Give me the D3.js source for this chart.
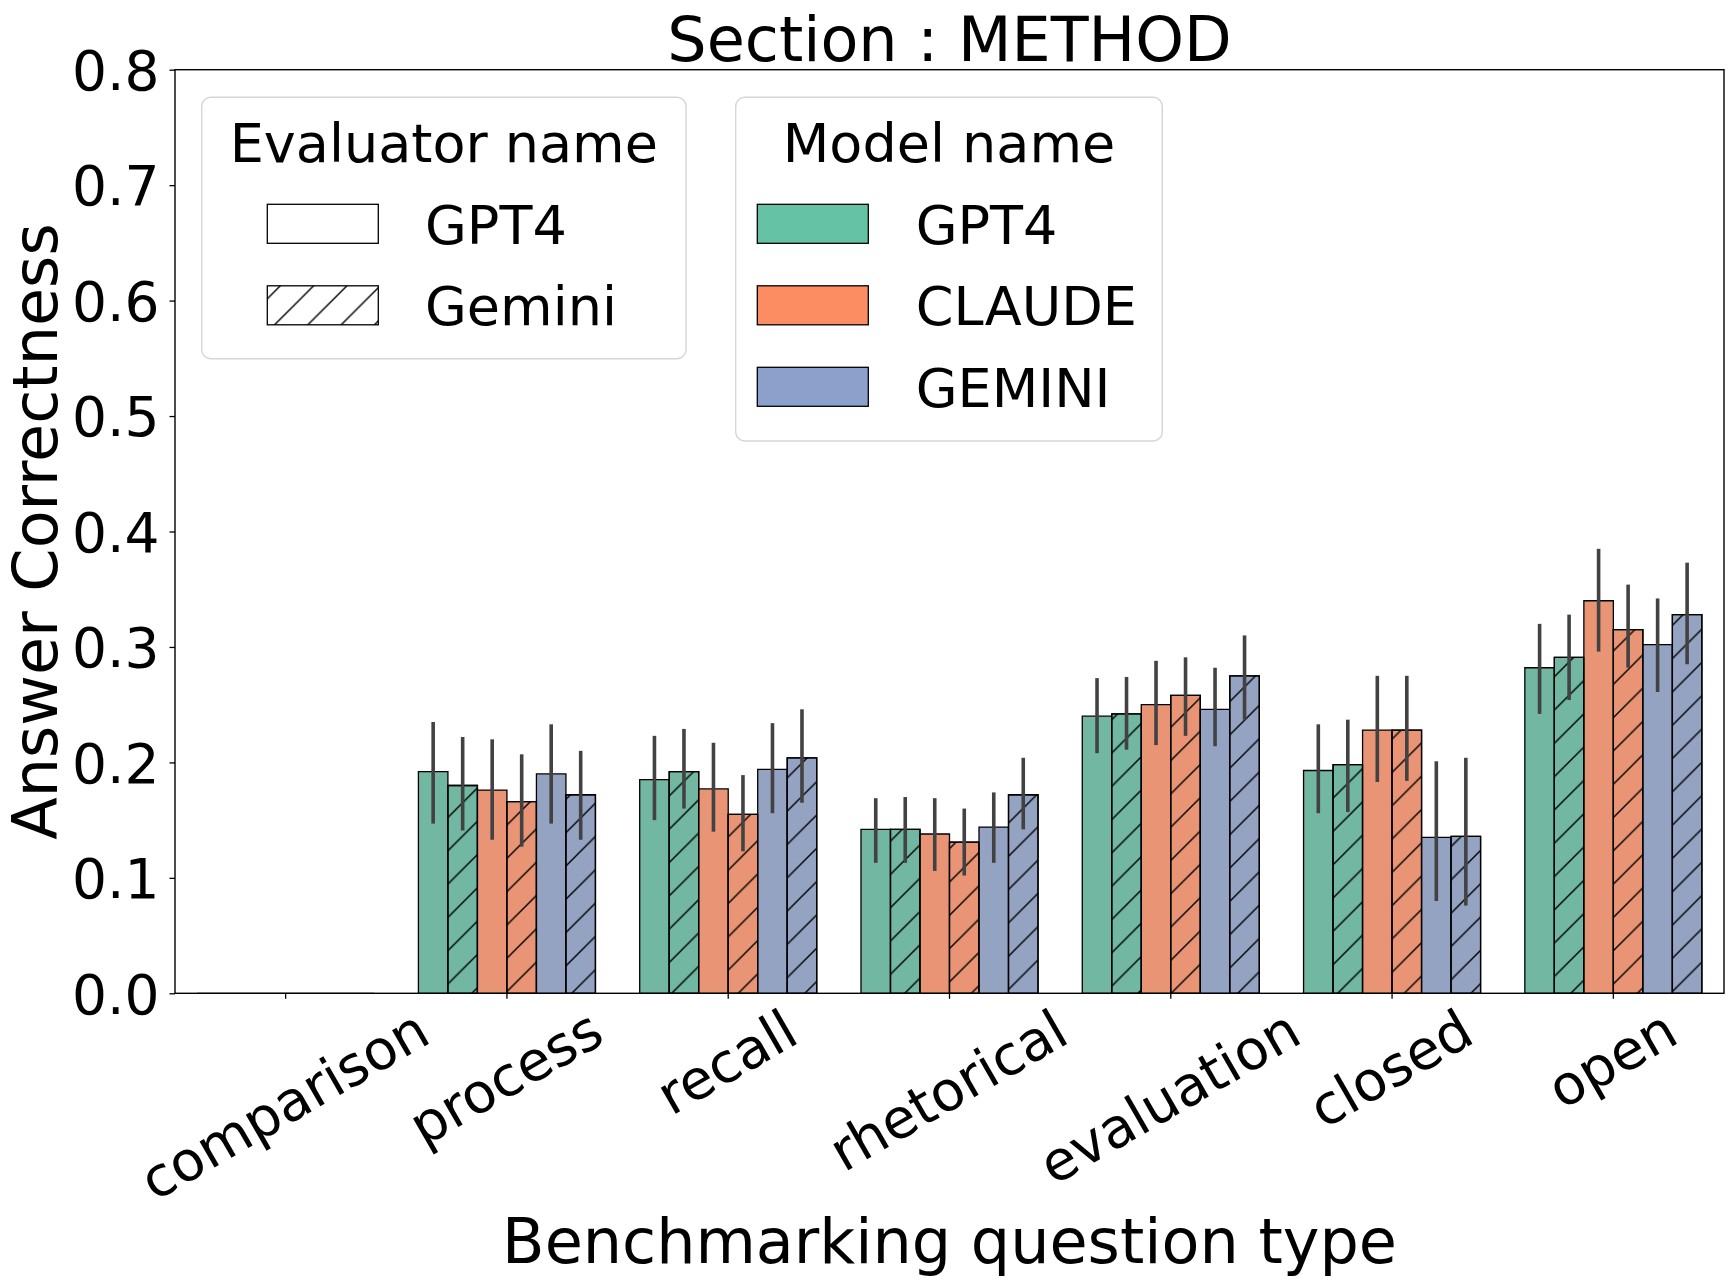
<!DOCTYPE html>
<html>
<head>
<meta charset="utf-8">
<script src="https://cdn.jsdelivr.net/npm/d3@7"></script>
<style>
  body { margin: 0; background: #fff; }
  text { font-family: "DejaVu Sans", sans-serif; fill: #000; }
</style>
</head>
<body>
<script>
// question types on the x axis
let categories = ["comparison", "process", "recall", "rhetorical", "evaluation", "closed", "open"];
let models = ["GPT4", "CLAUDE", "GEMINI"];
let evaluators = ["GPT4", "Gemini"];
let yTicks = [0, 0.1, 0.2, 0.3, 0.4, 0.5, 0.6, 0.7, 0.8];

// mean answer correctness, one array per model / evaluator
let gpt4_byGpt4     = [0, 0.192, 0.185, 0.142, 0.240, 0.193, 0.282];
let gpt4_byGemini   = [0, 0.180, 0.192, 0.142, 0.242, 0.198, 0.291];
let claude_byGpt4   = [0, 0.176, 0.177, 0.138, 0.250, 0.228, 0.340];
let claude_byGemini = [0, 0.166, 0.155, 0.131, 0.258, 0.228, 0.315];
let gemini_byGpt4   = [0, 0.190, 0.194, 0.144, 0.246, 0.135, 0.302];
let gemini_byGemini = [0, 0.172, 0.204, 0.172, 0.275, 0.136, 0.328];

// error bar ends (low / high)
let gpt4_byGpt4_lo     = [null, 0.147, 0.150, 0.113, 0.208, 0.156, 0.242];
let gpt4_byGpt4_hi     = [null, 0.235, 0.223, 0.169, 0.273, 0.233, 0.320];
let gpt4_byGemini_lo   = [null, 0.141, 0.160, 0.113, 0.211, 0.157, 0.254];
let gpt4_byGemini_hi   = [null, 0.222, 0.229, 0.170, 0.274, 0.237, 0.328];
let claude_byGpt4_lo   = [null, 0.133, 0.140, 0.106, 0.215, 0.183, 0.296];
let claude_byGpt4_hi   = [null, 0.220, 0.217, 0.169, 0.288, 0.275, 0.385];
let claude_byGemini_lo = [null, 0.127, 0.123, 0.102, 0.223, 0.184, 0.282];
let claude_byGemini_hi = [null, 0.207, 0.189, 0.160, 0.291, 0.275, 0.354];
let gemini_byGpt4_lo   = [null, 0.147, 0.156, 0.113, 0.214, 0.080, 0.261];
let gemini_byGpt4_hi   = [null, 0.233, 0.234, 0.174, 0.282, 0.201, 0.342];
let gemini_byGemini_lo = [null, 0.133, 0.165, 0.142, 0.237, 0.076, 0.285];
let gemini_byGemini_hi = [null, 0.210, 0.246, 0.204, 0.310, 0.204, 0.373];

let series = [
  { model: 0, ev: 0, vals: gpt4_byGpt4, lo: gpt4_byGpt4_lo, hi: gpt4_byGpt4_hi },
  { model: 0, ev: 1, vals: gpt4_byGemini, lo: gpt4_byGemini_lo, hi: gpt4_byGemini_hi },
  { model: 1, ev: 0, vals: claude_byGpt4, lo: claude_byGpt4_lo, hi: claude_byGpt4_hi },
  { model: 1, ev: 1, vals: claude_byGemini, lo: claude_byGemini_lo, hi: claude_byGemini_hi },
  { model: 2, ev: 0, vals: gemini_byGpt4, lo: gemini_byGpt4_lo, hi: gemini_byGpt4_hi },
  { model: 2, ev: 1, vals: gemini_byGemini, lo: gemini_byGemini_lo, hi: gemini_byGemini_hi },
];

let legendColors = ["#66c2a5", "#fc8d62", "#8da0cb"];
let barColors = ["#71b7a1", "#e99575", "#95a3c3"];

function graficar() {
  let w = 1733;
  let h = 1287;
  let m = { left: 175, right: 1724, top: 69.7, bottom: 993.3 };

  let svg = d3.select("body").append("svg").attr("width", w).attr("height", h);

  // hatch "/"
  let hs = 33.3;
  svg.append("defs").append("pattern")
    .attr("id", "hatch")
    .attr("patternUnits", "userSpaceOnUse")
    .attr("width", hs)
    .attr("height", hs)
    .append("path")
    .attr("d", `M-2,2 l4,-4 M0,${hs} L${hs},0 M${hs - 2},${hs + 2} l4,-4`)
    .attr("stroke", "#000")
    .attr("stroke-width", 1.4);

  let x = d3.scaleBand().domain(categories).range([m.left, m.right]).padding(0);
  let y = d3.scaleLinear().domain([0, 0.8]).range([m.bottom, m.top]);
  let barW = x.bandwidth() * 0.8 / series.length;

  let rows = [];
  series.forEach(function (s, j) {
    categories.forEach(function (c, i) {
      rows.push({ c: c, j: j, s: s, v: s.vals[i], lo: s.lo[i], hi: s.hi[i] });
    });
  });

  function barX(d) {
    return x(d.c) + x.bandwidth() * 0.1 + d.j * barW;
  }

  // bars as paths so that zero-height bars still show their edge
  let bars = svg.append("g");
  function barPath(d) {
    let x0 = barX(d), y0 = y(0), y1 = y(d.v);
    return `M${x0},${y0}H${x0 + barW}V${y1}H${x0}Z`;
  }
  bars.selectAll("path.fill")
    .data(rows)
    .enter()
    .append("path")
    .attr("d", barPath)
    .attr("fill", function (d) { return barColors[d.s.model]; })
    .attr("stroke", "#000")
    .attr("stroke-width", 1.3);
  bars.selectAll("path.hatch")
    .data(rows.filter(function (d) { return d.s.ev === 1 && d.v > 0; }))
    .enter()
    .append("path")
    .attr("d", barPath)
    .attr("fill", "url(#hatch)")
    .attr("stroke", "#000")
    .attr("stroke-width", 1.3);

  // error bars
  svg.append("g").selectAll("line")
    .data(rows.filter(function (d) { return d.lo !== null; }))
    .enter()
    .append("line")
    .attr("x1", function (d) { return barX(d) + barW / 2; })
    .attr("x2", function (d) { return barX(d) + barW / 2; })
    .attr("y1", function (d) { return y(d.lo); })
    .attr("y2", function (d) { return y(d.hi); })
    .attr("stroke", "#424242")
    .attr("stroke-width", 3.6);

  // frame
  svg.append("rect")
    .attr("x", m.left).attr("y", m.top)
    .attr("width", m.right - m.left).attr("height", m.bottom - m.top)
    .attr("fill", "none").attr("stroke", "#000").attr("stroke-width", 1.4);

  // y axis
  let yAxis = svg.append("g")
    .attr("transform", `translate(${m.left},0)`)
    .call(d3.axisLeft(y).tickValues(yTicks).tickFormat(d3.format(".1f")).tickSize(5.5).tickPadding(10));
  yAxis.select(".domain").remove();
  yAxis.selectAll("line").attr("stroke", "#000").attr("stroke-width", 1.3);
  yAxis.selectAll("text").attr("font-size", 55).attr("font-family", "DejaVu Sans").attr("dy", "0.36em");

  // x axis
  let xAxis = svg.append("g")
    .attr("transform", `translate(0,${m.bottom})`)
    .call(d3.axisBottom(x).tickSize(5.5).tickFormat(""));
  xAxis.select(".domain").remove();
  xAxis.selectAll("line").attr("stroke", "#000").attr("stroke-width", 1.3);

  let rad = Math.PI / 6;
  svg.append("g").selectAll("text")
    .data(categories)
    .enter()
    .append("text")
    .text(function (d) { return d; })
    .attr("font-size", 55)
    .attr("text-anchor", "middle")
    .attr("dy", "0.3em")
    .each(function (d) {
      let tw = this.getComputedTextLength();
      let th = 64;
      let bh = tw * Math.sin(rad) + th * Math.cos(rad);
      let cx = x(d) + x.bandwidth() / 2;
      let cy = m.bottom + 6 + bh / 2;
      d3.select(this).attr("transform", `translate(${cx},${cy}) rotate(-30)`);
    });

  // titles
  svg.append("text")
    .attr("x", (m.left + m.right) / 2).attr("y", 61)
    .attr("text-anchor", "middle").attr("font-size", 62)
    .text("Section : METHOD");
  svg.append("text")
    .attr("x", (m.left + m.right) / 2).attr("y", 1263)
    .attr("text-anchor", "middle").attr("font-size", 62)
    .text("Benchmarking question type");
  svg.append("text")
    .attr("transform", `translate(57,${(m.top + m.bottom) / 2}) rotate(-90)`)
    .attr("text-anchor", "middle").attr("font-size", 62)
    .text("Answer Correctness");

  // legends
  function legend(bx, by, bw, bh, title, labels, fills, patchX, labelX) {
    let g = svg.append("g");
    g.append("rect")
      .attr("x", bx).attr("y", by).attr("width", bw).attr("height", bh)
      .attr("rx", 9).attr("ry", 9)
      .attr("fill", "#fff").attr("fill-opacity", 0.8)
      .attr("stroke", "#d6d6d6").attr("stroke-width", 1.4);
    g.append("text")
      .attr("x", bx + bw / 2).attr("y", 161.7)
      .attr("text-anchor", "middle").attr("font-size", 54)
      .text(title);
    labels.forEach(function (lab, i) {
      let cy = 223.8 + i * 81.5;
      g.append("rect")
        .attr("x", patchX).attr("y", cy - 19.5).attr("width", 111).attr("height", 39)
        .attr("fill", fills[i]).attr("stroke", "#000").attr("stroke-width", 1.3);
      g.append("text")
        .attr("x", labelX).attr("y", cy + 20)
        .attr("font-size", 54)
        .text(lab);
    });
  }
  legend(201.7, 97.3, 484.3, 261.4, "Evaluator name", evaluators, ["#fff", "url(#hatch)"], 267.3, 425);
  legend(735.7, 97.3, 426.6, 343.7, "Model name", models, legendColors, 757.3, 915.7);
}

graficar();
</script>
</body>
</html>
